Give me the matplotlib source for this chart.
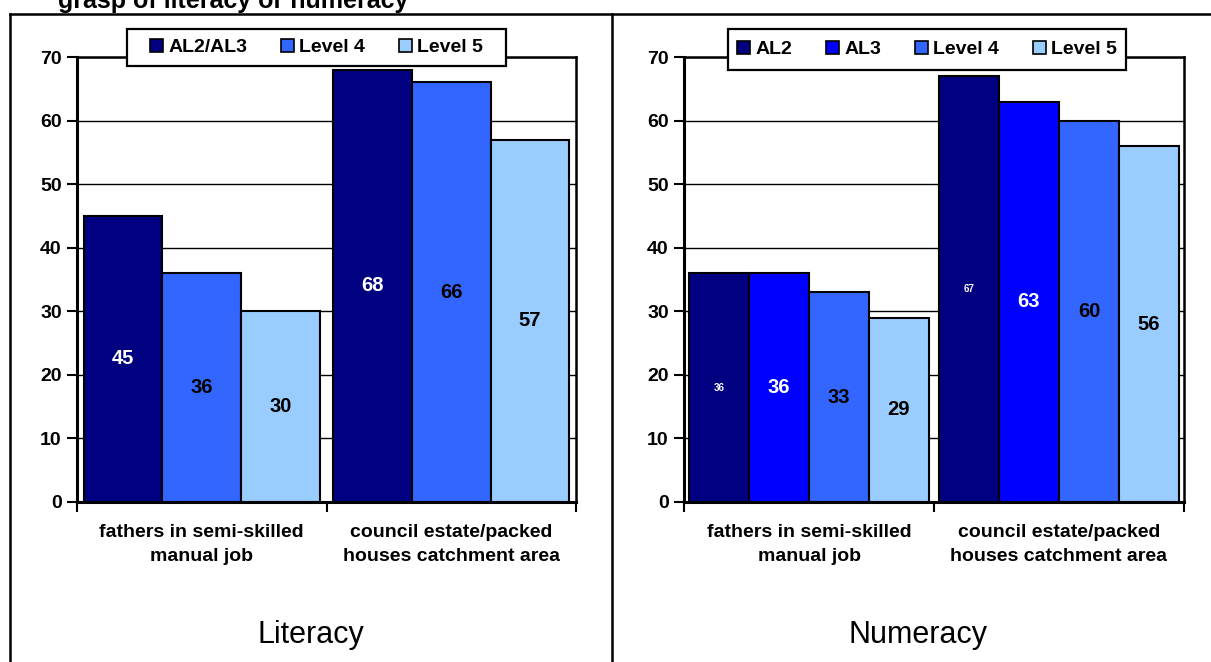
import matplotlib

matplotlib.use("Agg")
import matplotlib.pyplot as plt
import numpy as np
from matplotlib.lines import Line2D
from matplotlib.patches import Rectangle

plt.rcParams["font.family"] = ["Liberation Sans", "DejaVu Sans"]

# ---- data ----
categories = ["fathers in semi-skilled\nmanual job", "council estate/packed\nhouses catchment area"]

lit_series = ["AL2/AL3", "Level 4", "Level 5"]
lit_values = [[45, 68], [36, 66], [30, 57]]
lit_colors = ["#000080", "#3366FF", "#99CCFF"]
lit_label_colors = ["white", "black", "black"]
lit_label_sizes = [14.5, 14.5, 14.5]

num_series = ["AL2", "AL3", "Level 4", "Level 5"]
num_values = [[36, 67], [36, 63], [33, 60], [29, 56]]
num_colors = ["#000080", "#0000FF", "#3366FF", "#99CCFF"]
num_label_colors = ["white", "white", "black", "black"]
num_label_sizes = [7, 14.5, 14.5, 14.5]

W, H = 1211, 662
fig = plt.figure(figsize=(W / 100, H / 100), dpi=100)


def px_rect(x0, y0, x1, y1):
    return [x0 / W, 1 - y1 / H, (x1 - x0) / W, (y1 - y0) / H]


def draw_panel(ax, series, values, colors, lab_colors, lab_sizes, width, leg_box):
    x = np.arange(len(categories))
    n = len(series)
    for i in range(n):
        off = (i - (n - 1) / 2) * width
        vals = values[i]
        ax.bar(x + off, vals, width, color=colors[i], edgecolor="black",
               linewidth=1.5, label=series[i], zorder=3)
        for xi, v in zip(x + off, vals):
            ax.text(xi, v / 2, f"{v}", ha="center", va="center", color=lab_colors[i],
                    fontsize=lab_sizes[i], fontweight="bold", zorder=4)
    ax.set_xlim(-0.5, 1.5)
    ax.set_ylim(0, 70)
    ax.set_yticks(range(0, 71, 10))
    ax.set_yticklabels([str(t) for t in range(0, 71, 10)], fontsize=14, fontweight="bold")
    ax.yaxis.grid(True, color="black", linewidth=1.0, zorder=0)
    ax.set_axisbelow(True)
    ax.set_xticks([-0.5, 0.5, 1.5])
    ax.set_xticklabels([])
    ax.set_xticks(x, minor=True)
    ax.set_xticklabels(categories, minor=True, fontsize=14, fontweight="bold", linespacing=1.55)
    ax.tick_params(axis="x", which="minor", length=0, pad=16)
    ax.tick_params(axis="x", which="major", length=7, width=1.5, direction="out")
    ax.tick_params(axis="y", length=7, width=1.5, direction="out", pad=4)
    for s in ["left", "bottom"]:
        ax.spines[s].set_linewidth(2.2)
    for s in ["top", "right"]:
        ax.spines[s].set_linewidth(1.8)

    # legend: opaque box drawn separately, entries centred in it
    x0, y0, x1, y1 = leg_box
    frame = Rectangle((x0 / W, 1 - y1 / H), (x1 - x0) / W, (y1 - y0) / H,
                      transform=fig.transFigure, facecolor="white", edgecolor="black",
                      linewidth=1.6, clip_on=False, zorder=9)
    ax.add_patch(frame)
    leg = ax.legend(loc="center", bbox_to_anchor=((x0 + x1) / 2 / W, 1 - (y0 + y1) / 2 / H),
                    bbox_transform=fig.transFigure, ncol=n, frameon=False,
                    prop={"size": 14, "weight": "bold"}, handlelength=0.68, handleheight=0.68,
                    handletextpad=0.25, columnspacing=1.75, borderpad=0, borderaxespad=0)
    leg.set_zorder(10)
    for h in leg.legend_handles:
        h.set_linewidth(1.2)


ax1 = fig.add_axes(px_rect(77, 57, 576, 502))
draw_panel(ax1, lit_series, lit_values, lit_colors, lit_label_colors, lit_label_sizes,
           0.315, (127, 29, 506, 66))

ax2 = fig.add_axes(px_rect(684, 57, 1184, 502))
draw_panel(ax2, num_series, num_values, num_colors, num_label_colors, num_label_sizes,
           0.24, (728, 29, 1126, 70))

# panel frames
for xs, ys in [([10 / W, 10 / W], [0, 1 - 14 / H]),
               ([612 / W, 612 / W], [0, 1 - 14 / H]),
               ([10 / W, 1], [1 - 14 / H, 1 - 14 / H])]:
    fig.add_artist(Line2D(xs, ys, color="black", linewidth=1.8))

fig.text(311 / W, 1 - 635 / H, "Literacy", ha="center", va="center", fontsize=22)
fig.text(918 / W, 1 - 635 / H, "Numeracy", ha="center", va="center", fontsize=22)

fig.text(58 / W, 1 - 8 / H, "grasp of literacy or numeracy", ha="left", va="baseline",
         fontsize=18, fontweight="bold")

fig.savefig("out.png", dpi=100)
